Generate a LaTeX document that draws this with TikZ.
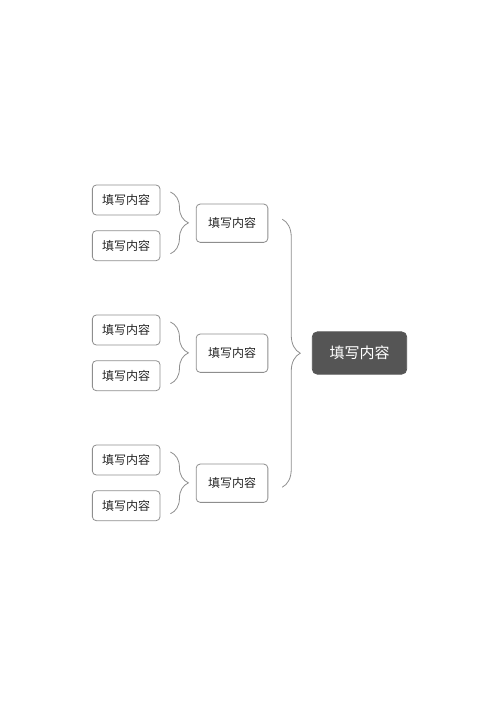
\documentclass[tikz,border=0pt]{standalone}
\usepackage{fontspec}
\newfontfamily\cjk{Noto Sans CJK SC}
\usetikzlibrary{decorations.pathreplacing}
\definecolor{linegray}{HTML}{8E8E8E}
\definecolor{rootgray}{HTML}{555555}
\definecolor{textgray}{HTML}{262626}
\begin{document}
\begin{tikzpicture}[x=1pt,y=-1pt]
    \def\gsep{130}
    \tikzstyle{topic}=[draw=linegray,line width=0.8pt,rounded corners=4pt,inner sep=0pt,
        text=textgray,font=\cjk\fontsize{12}{14}\selectfont]
    \tikzstyle{leaf topic}=[topic,minimum width=67.7pt,minimum height=30pt]
    \tikzstyle{mid topic}=[topic,minimum width=71.7pt,minimum height=38.3pt]
    \tikzstyle{root topic}=[topic,draw=rootgray,fill=rootgray,text=white,rounded corners=5pt,
        minimum width=94.4pt,minimum height=42.3pt,font=\cjk\fontsize{15}{17}\selectfont]
    \tikzstyle{brace}=[draw=linegray,line width=0.8pt,decorate,
        decoration={brace,amplitude=18pt,aspect=0.5}]

    \useasboundingbox (0,0) rectangle (500,707);

    % Draw the root node
    \node[root topic] (R) at (359.5,353) {填写内容};

    % Draw the middle nodes
    \foreach \g in {1,...,3}
        \node[mid topic] (M-\g) at (232,{93.2+\gsep*\g}) {填写内容};

    % Draw the leaf nodes, two for each middle node
    \foreach \g in {1,...,3}
        \foreach \s/\dy in {1/-23.2,2/22.5}
            \node[leaf topic] (L-\g-\s) at (126.2,{93.2+\gsep*\g+\dy}) {填写内容};

    % Join every pair of leaves to its middle node
    \foreach \g in {1,...,3}
        \draw[brace] ([xshift=10pt,yshift=8pt]L-\g-1.east) -- ([xshift=10pt,yshift=-8pt]L-\g-2.east);

    % Join the middle nodes to the root
    \draw[brace] ([xshift=14pt,yshift=4pt]M-1.east) -- ([xshift=14pt,yshift=-4pt]M-3.east);
\end{tikzpicture}
\end{document}
